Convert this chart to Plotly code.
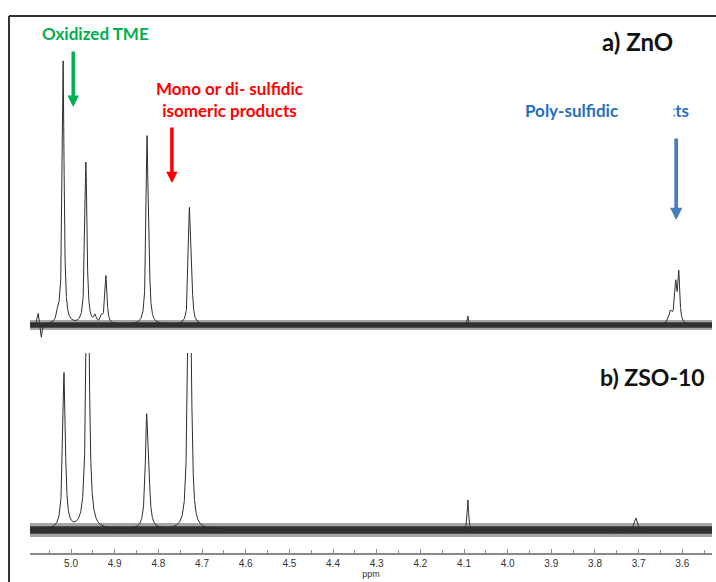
import numpy as np
import plotly.graph_objects as go

# ---------------- data ----------------
tick_values = [5.0, 4.9, 4.8, 4.7, 4.6, 4.5, 4.4, 4.3, 4.2, 4.1, 4.0, 3.9, 3.8, 3.7, 3.6]
tick_labels = ["5.0", "4.9", "4.8", "4.7", "4.6", "4.5", "4.4", "4.3", "4.2", "4.1", "4.0", "3.9", "3.8", "3.7", "3.6"]

# a) ZnO  : peak positions (ppm), heights (a.u.), half widths (ppm)
zno_ppm = [5.075, 5.068, 5.030, 5.018, 4.966, 4.945, 4.930, 4.920, 4.826, 4.822, 4.729, 4.725, 4.091, 3.627, 3.615, 3.608]
zno_height = [12, -14, 10, 263, 162, 7, 6, 48, 175, 50, 100, 60, 9, 12, 38, 48]
zno_hwhm = [0.002, 0.002, 0.003, 0.0025, 0.0028, 0.003, 0.003, 0.0028, 0.0025, 0.0025, 0.0025, 0.0025, 0.0015, 0.005, 0.003, 0.0025]
zno_noise = 5

# b) ZSO-10
zso_ppm = [5.016, 4.962, 4.827, 4.823, 4.733, 4.729, 4.724, 4.091, 3.706]
zso_height = [156, 400, 95, 45, 60, 300, 60, 30, 12]
zso_hwhm = [0.0035, 0.0033, 0.0035, 0.0035, 0.003, 0.003, 0.003, 0.0018, 0.004]
zso_noise = 7

x_range = [5.094, 3.532]

# ---------------- build ----------------
grid = np.linspace(3.52, 5.10, 8000)


def spectrum(pos, hts, wids):
    y = np.zeros_like(grid)
    for p, h, w in zip(pos, hts, wids):
        y += h / (1.0 + ((grid - p) / w) ** 2)
    return y


W, H = 716, 582
ML, MR, MT, MB = 30, 4, 12, 29


def px(x):
    return (x - ML) / (W - ML - MR)


def py(y):
    return (H - MB - y) / (H - MT - MB)


band_x = [grid.min(), grid.max(), grid.max(), grid.min()]
line_color = "#2e2e2e"

fig = go.Figure()


def add_band(noise, axis):
    # baseline noise drawn as a soft band: outer light part, inner dense part
    for frac, col in ((1.0, "rgba(20,20,20,0.38)"), (0.55, "rgba(10,10,10,0.75)")):
        n = noise * frac
        fig.add_trace(go.Scatter(x=band_x, y=[-n, -n, n, n], fill="toself", fillcolor=col,
                                 line=dict(width=0), mode="lines", xaxis="x", yaxis=axis,
                                 hoverinfo="skip", showlegend=False))


add_band(zno_noise, "y2")
fig.add_trace(go.Scatter(x=grid, y=spectrum(zno_ppm, zno_height, zno_hwhm), mode="lines",
                         line=dict(color=line_color, width=1), xaxis="x", yaxis="y2", showlegend=False))
add_band(zso_noise, "y")
fig.add_trace(go.Scatter(x=grid, y=spectrum(zso_ppm, zso_height, zso_hwhm), mode="lines",
                         line=dict(color=line_color, width=1), xaxis="x", yaxis="y", showlegend=False))

txt_font = "Lato"
common = dict(xref="paper", yref="paper", showarrow=False, xanchor="center", yanchor="middle")
annotations = [
    dict(text="<b>Oxidized TME</b>", x=px(95.5), y=py(34),
         font=dict(family=txt_font, size=17, color="#00B050"), **common),
    dict(text="<b>a) ZnO</b>", x=px(637.5), y=py(41),
         font=dict(family=txt_font, size=24, color="#111111"), **common),
    dict(text="<b>b) ZSO-10</b>", x=px(652), y=py(377),
         font=dict(family=txt_font, size=23, color="#111111"), **common),
    dict(text="<b>Mono or di- sulfidic<br>isomeric products</b>", x=px(229), y=py(99),
         font=dict(family=txt_font, size=17, color="#FF0000"), **common),
    dict(text="<b>Poly-sulfidic products</b>", x=px(523), y=py(111), xref="paper", yref="paper",
         xanchor="left", yanchor="middle", showarrow=False,
         font=dict(family=txt_font, size=17, color="#1F6FC0")),
    # white patch hiding part of the label, as in the original
    dict(text=" ", x=px(621), y=py(111), xref="paper", yref="paper", xanchor="left", yanchor="middle",
         width=51, height=22, bgcolor="white", borderpad=0, showarrow=False),
    # arrows
    dict(text="", x=4.995, y=218, xref="x", yref="y2", ax=0, ay=-57, showarrow=True,
         arrowhead=2, arrowsize=0.65, arrowwidth=3.5, arrowcolor="#00B050"),
    dict(text="", x=4.769, y=142, xref="x", yref="y2", ax=0, ay=-57, showarrow=True,
         arrowhead=2, arrowsize=0.65, arrowwidth=3.5, arrowcolor="#FF0000"),
    dict(text="", x=3.614, y=105, xref="x", yref="y2", ax=0, ay=-83, showarrow=True,
         arrowhead=2, arrowsize=0.65, arrowwidth=3.8, arrowcolor="#4A7EBB"),
]

shapes = [
    dict(type="line", xref="paper", yref="paper", x0=px(9), x1=px(9), y0=py(16), y1=py(600),
         line=dict(color="#333333", width=2)),
    dict(type="line", xref="paper", yref="paper", x0=px(9), x1=px(730), y0=py(16), y1=py(16),
         line=dict(color="#333333", width=2)),
]

fig.update_layout(
    width=W, height=H,
    margin=dict(l=ML, r=MR, t=MT, b=MB),
    paper_bgcolor="white", plot_bgcolor="white",
    showlegend=False,
    xaxis=dict(range=x_range, anchor="y", showgrid=False, zeroline=False,
               showline=True, linecolor="#8a8a8a", linewidth=2,
               ticks="inside", ticklen=4, tickwidth=1, tickcolor="#8a8a8a",
               tickmode="array", tickvals=tick_values, ticktext=tick_labels,
               minor=dict(ticks="inside", ticklen=3, tickcolor="#8a8a8a", dtick=0.05, tick0=3.55),
               tickfont=dict(family="Liberation Sans", size=10, color="#333333"),
               title=dict(text="ppm", font=dict(family="Liberation Sans", size=9, color="#333333"),
                          standoff=1)),
    yaxis=dict(domain=[0, py(353)], range=[-23, 177], visible=False, fixedrange=True),
    yaxis2=dict(domain=[py(350), 1], range=[-25, 313], visible=False, anchor="x"),
    annotations=annotations,
    shapes=shapes,
)

fig.write_html("out.html")
